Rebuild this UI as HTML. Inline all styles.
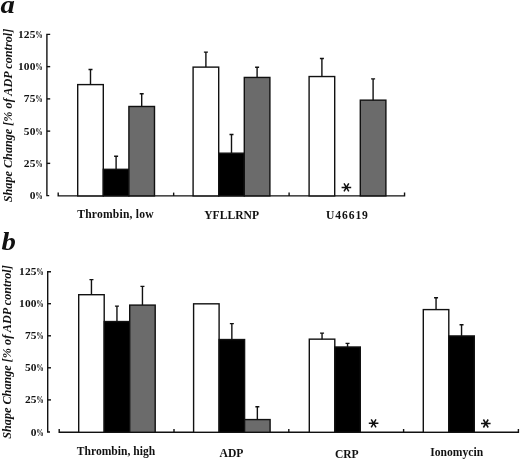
<!DOCTYPE html>
<html><head><meta charset="utf-8"><style>
html,body{margin:0;padding:0;background:#fff;}
svg{display:block;will-change:transform;}
text{font-family:"Liberation Serif",serif;fill:#111;}
.tl{font-size:10.4px;font-weight:bold;text-anchor:end;letter-spacing:0.2px;}
.tp{font-size:10.4px;font-weight:bold;}
.xl{font-size:11.6px;font-weight:bold;text-anchor:middle;}
.yl{font-size:12.2px;font-weight:bold;font-style:italic;text-anchor:middle;}
.pl{font-size:25px;font-weight:bold;font-style:italic;}
</style></head><body>
<svg width="520" height="459" viewBox="0 0 520 459">
<rect width="520" height="459" fill="#fff"/>
<path d="M50.199999999999996,34.40 H46.9 V195.60 H49.199999999999996" fill="none" stroke="#111" stroke-width="1.4"/>
<path d="M46.9,163.36 H50.199999999999996" stroke="#111" stroke-width="1.4"/>
<path d="M46.9,131.12 H50.199999999999996" stroke="#111" stroke-width="1.4"/>
<path d="M46.9,98.88 H50.199999999999996" stroke="#111" stroke-width="1.4"/>
<path d="M46.9,66.64 H50.199999999999996" stroke="#111" stroke-width="1.4"/>
<text transform="translate(35.70,199.10) scale(1.1,1)" class="tl">0</text>
<text transform="translate(35.20,199.10) scale(0.72,1)" class="tp">%</text>
<text transform="translate(35.70,166.86) scale(1.1,1)" class="tl">25</text>
<text transform="translate(35.20,166.86) scale(0.72,1)" class="tp">%</text>
<text transform="translate(35.70,134.62) scale(1.1,1)" class="tl">50</text>
<text transform="translate(35.20,134.62) scale(0.72,1)" class="tp">%</text>
<text transform="translate(35.70,102.38) scale(1.1,1)" class="tl">75</text>
<text transform="translate(35.20,102.38) scale(0.72,1)" class="tp">%</text>
<text transform="translate(35.70,70.14) scale(1.1,1)" class="tl">100</text>
<text transform="translate(35.20,70.14) scale(0.72,1)" class="tp">%</text>
<text transform="translate(35.70,37.90) scale(1.1,1)" class="tl">125</text>
<text transform="translate(35.20,37.90) scale(0.72,1)" class="tp">%</text>
<path d="M58.20,192.60 V195.90 H404.55 V192.60" fill="none" stroke="#111" stroke-width="1.4"/>
<path d="M173.65,192.60 V195.90" stroke="#111" stroke-width="1.4"/>
<path d="M289.10,192.60 V195.90" stroke="#111" stroke-width="1.4"/>
<rect x="77.70" y="84.60" width="25.60" height="111.30" fill="#fff" stroke="#111" stroke-width="1.4"/>
<path d="M90.50,84.60 V69.51 M88.50,69.51 H92.50" fill="none" stroke="#111" stroke-width="1.4"/>
<rect x="103.30" y="169.32" width="25.60" height="26.58" fill="#000" stroke="#111" stroke-width="1.4"/>
<path d="M116.10,169.32 V156.28 M114.10,156.28 H118.10" fill="none" stroke="#111" stroke-width="1.4"/>
<rect x="128.90" y="106.48" width="25.60" height="89.42" fill="#6b6b6b" stroke="#111" stroke-width="1.4"/>
<path d="M141.70,106.48 V93.70 M139.70,93.70 H143.70" fill="none" stroke="#111" stroke-width="1.4"/>
<rect x="193.10" y="67.12" width="25.60" height="128.78" fill="#fff" stroke="#111" stroke-width="1.4"/>
<path d="M205.90,67.12 V52.15 M203.90,52.15 H207.90" fill="none" stroke="#111" stroke-width="1.4"/>
<rect x="218.70" y="153.19" width="25.60" height="42.71" fill="#000" stroke="#111" stroke-width="1.4"/>
<path d="M231.50,153.19 V134.48 M229.50,134.48 H233.50" fill="none" stroke="#111" stroke-width="1.4"/>
<rect x="244.30" y="77.44" width="25.60" height="118.46" fill="#6b6b6b" stroke="#111" stroke-width="1.4"/>
<path d="M257.10,77.44 V67.25 M255.10,67.25 H259.10" fill="none" stroke="#111" stroke-width="1.4"/>
<rect x="309.10" y="76.54" width="25.60" height="119.36" fill="#fff" stroke="#111" stroke-width="1.4"/>
<path d="M321.90,76.54 V58.47 M319.90,58.47 H323.90" fill="none" stroke="#111" stroke-width="1.4"/>
<rect x="360.30" y="100.15" width="25.60" height="95.75" fill="#6b6b6b" stroke="#111" stroke-width="1.4"/>
<path d="M373.10,100.15 V78.86 M371.10,78.86 H375.10" fill="none" stroke="#111" stroke-width="1.4"/>
<path d="M341.60,187.40 H351.20 M344.00,183.40 L348.80,191.40 M348.80,183.40 L344.00,191.40" stroke="#111" stroke-width="1.5" fill="none"/>
<text x="115.50" y="217.70" class="xl" style="letter-spacing:0.2px">Thrombin, low</text>
<text x="231.60" y="218.80" class="xl">YFLLRNP</text>
<text x="347.45" y="219.40" class="xl" style="letter-spacing:0.9px">U46619</text>
<text transform="translate(11.5,115.5) rotate(-90)" class="yl">Shape Change [% of ADP control]</text>
<text transform="translate(0.5,12.7) scale(1.15,1)" class="pl">a</text>
<path d="M51.0,271.70 H47.7 V432.00 H50.0" fill="none" stroke="#111" stroke-width="1.4"/>
<path d="M47.7,399.90 H51.0" stroke="#111" stroke-width="1.4"/>
<path d="M47.7,367.80 H51.0" stroke="#111" stroke-width="1.4"/>
<path d="M47.7,335.80 H51.0" stroke="#111" stroke-width="1.4"/>
<path d="M47.7,303.70 H51.0" stroke="#111" stroke-width="1.4"/>
<text transform="translate(36.80,435.50) scale(1.1,1)" class="tl">0</text>
<text transform="translate(36.30,435.50) scale(0.72,1)" class="tp">%</text>
<text transform="translate(36.80,403.40) scale(1.1,1)" class="tl">25</text>
<text transform="translate(36.30,403.40) scale(0.72,1)" class="tp">%</text>
<text transform="translate(36.80,371.30) scale(1.1,1)" class="tl">50</text>
<text transform="translate(36.30,371.30) scale(0.72,1)" class="tp">%</text>
<text transform="translate(36.80,339.30) scale(1.1,1)" class="tl">75</text>
<text transform="translate(36.30,339.30) scale(0.72,1)" class="tp">%</text>
<text transform="translate(36.80,307.20) scale(1.1,1)" class="tl">100</text>
<text transform="translate(36.30,307.20) scale(0.72,1)" class="tp">%</text>
<text transform="translate(36.80,275.20) scale(1.1,1)" class="tl">125</text>
<text transform="translate(36.30,275.20) scale(0.72,1)" class="tp">%</text>
<path d="M59.20,429.00 V432.30 H518.40 V429.00" fill="none" stroke="#111" stroke-width="1.4"/>
<path d="M174.00,429.00 V432.30" stroke="#111" stroke-width="1.4"/>
<path d="M288.80,429.00 V432.30" stroke="#111" stroke-width="1.4"/>
<path d="M403.60,429.00 V432.30" stroke="#111" stroke-width="1.4"/>
<rect x="78.70" y="294.70" width="25.50" height="137.60" fill="#fff" stroke="#111" stroke-width="1.4"/>
<path d="M91.45,294.70 V279.60 M89.45,279.60 H93.45" fill="none" stroke="#111" stroke-width="1.4"/>
<rect x="104.20" y="321.55" width="25.50" height="110.75" fill="#000" stroke="#111" stroke-width="1.4"/>
<path d="M116.95,321.55 V306.13 M114.95,306.13 H118.95" fill="none" stroke="#111" stroke-width="1.4"/>
<rect x="129.70" y="305.10" width="25.50" height="127.20" fill="#6b6b6b" stroke="#111" stroke-width="1.4"/>
<path d="M142.45,305.10 V286.35 M140.45,286.35 H144.45" fill="none" stroke="#111" stroke-width="1.4"/>
<rect x="193.60" y="303.82" width="25.50" height="128.48" fill="#fff" stroke="#111" stroke-width="1.4"/>
<rect x="219.10" y="339.54" width="25.50" height="92.76" fill="#000" stroke="#111" stroke-width="1.4"/>
<path d="M231.85,339.54 V323.61 M229.85,323.61 H233.85" fill="none" stroke="#111" stroke-width="1.4"/>
<rect x="244.60" y="419.58" width="25.50" height="12.72" fill="#6b6b6b" stroke="#111" stroke-width="1.4"/>
<path d="M257.35,419.58 V406.80 M255.35,406.80 H259.35" fill="none" stroke="#111" stroke-width="1.4"/>
<rect x="309.30" y="339.15" width="25.50" height="93.15" fill="#fff" stroke="#111" stroke-width="1.4"/>
<path d="M322.05,339.15 V333.11 M320.05,333.11 H324.05" fill="none" stroke="#111" stroke-width="1.4"/>
<rect x="334.80" y="346.99" width="25.50" height="85.31" fill="#000" stroke="#111" stroke-width="1.4"/>
<path d="M347.55,346.99 V343.39 M345.55,343.39 H349.55" fill="none" stroke="#111" stroke-width="1.4"/>
<rect x="423.30" y="309.60" width="25.50" height="122.70" fill="#fff" stroke="#111" stroke-width="1.4"/>
<path d="M436.05,309.60 V297.78 M434.05,297.78 H438.05" fill="none" stroke="#111" stroke-width="1.4"/>
<rect x="448.80" y="335.94" width="25.50" height="96.36" fill="#000" stroke="#111" stroke-width="1.4"/>
<path d="M461.55,335.94 V324.76 M459.55,324.76 H463.55" fill="none" stroke="#111" stroke-width="1.4"/>
<path d="M368.80,423.30 H378.40 M371.20,419.30 L376.00,427.30 M376.00,419.30 L371.20,427.30" stroke="#111" stroke-width="1.5" fill="none"/>
<path d="M481.00,423.50 H490.60 M483.40,419.50 L488.20,427.50 M488.20,419.50 L483.40,427.50" stroke="#111" stroke-width="1.5" fill="none"/>
<text x="116.00" y="454.80" class="xl">Thrombin, high</text>
<text x="231.50" y="457.30" class="xl">ADP</text>
<text x="346.80" y="457.60" class="xl">CRP</text>
<text x="456.70" y="455.70" class="xl">Ionomycin</text>
<text transform="translate(10.5,352) rotate(-90)" class="yl">Shape Change [% of ADP control]</text>
<text transform="translate(1.5,250) scale(1.15,1)" class="pl">b</text>
</svg>
</body></html>
